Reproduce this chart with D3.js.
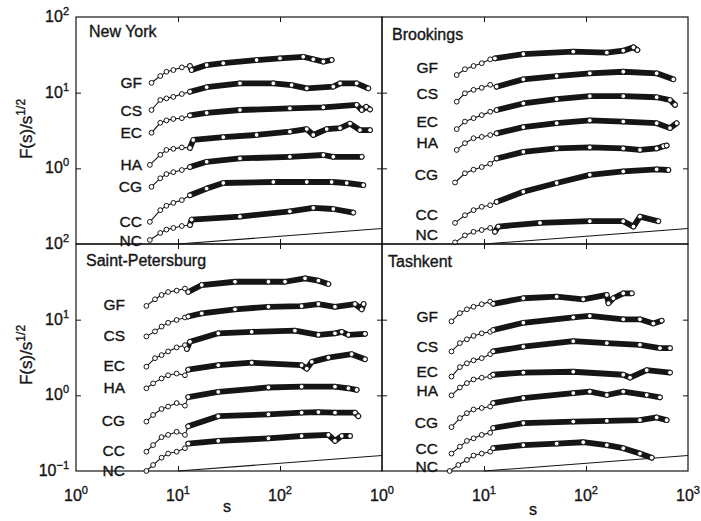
<!DOCTYPE html>
<html>
<head>
<meta charset="utf-8">
<script src="https://cdnjs.cloudflare.com/ajax/libs/d3/7.8.5/d3.min.js"></script>
<style>
  body { margin: 0; background: #fff; }
  svg { display: block; font-family: "Liberation Sans", Arial, sans-serif; }
  text { stroke: #151515; stroke-width: 0.35px; }
</style>
</head>
<body>
<svg width="701" height="521"></svg>
<script>
// series names (top to bottom in every panel) and panel titles
var series = ["GF", "CS", "EC", "HA", "CG", "CC", "NC"];
var cities = ["New York", "Brookings", "Saint-Petersburg", "Tashkent"];

// [s, F(s)/s^1/2]
var newYork = {
  GF: [[5.5,13.5],[6.7,16.6],[7.7,18.9],[9.0,19.9],[10.9,21.6],[13.1,22.5],[13.6,19.9],[19.1,23.2],[27.8,24.5],[59,27.0],[100,28.4],[169,29.8],[212,27.6],[266,25.7],[321,27.0]],
  CS: [[5.5,5.9],[6.7,8.0],[7.7,8.4],[9.0,8.8],[10.9,9.6],[13.1,10.3],[19.1,11.8],[40.5,13.3],[86,13.3],[130,12.6],[183,11.4],[333,12.0],[388,13.3],[565,13.3],[734,11.4]],
  EC: [[5.5,2.95],[6.7,4.0],[7.7,4.3],[9.0,4.5],[10.9,4.6],[13.1,5.0],[19.1,5.4],[40.5,5.9],[125,6.2],[266,6.4],[565,6.9],[632,5.9],[700,6.5],[763,6.0]],
  HA: [[5.3,1.11],[6.7,1.51],[7.7,1.75],[9.0,1.81],[10.9,1.89],[13.1,1.86],[14.1,2.37],[27.8,2.58],[59,2.76],[125,3.05],[183,3.3],[212,2.76],[287,3.3],[388,3.4],[486,3.9],[608,3.2],[763,3.2]],
  CG: [[5.5,0.57],[6.7,0.74],[7.7,0.84],[9.0,0.89],[10.9,0.95],[13.1,1.04],[19.1,1.22],[40.5,1.35],[125,1.42],[266,1.50],[333,1.42],[632,1.42]],
  CC: [[5.3,0.196],[6.7,0.28],[7.7,0.32],[9.0,0.35],[10.9,0.38],[13.1,0.44],[19.1,0.54],[27.8,0.64],[86,0.66],[183,0.66],[321,0.66],[451,0.64],[656,0.60]],
  NC: [[5.3,0.113],[6.7,0.14],[7.7,0.155],[9.0,0.163],[10.9,0.173],[13.1,0.178],[13.6,0.21],[40.5,0.23],[125,0.27],[212,0.30],[333,0.29],[523,0.26]]
};

var brookings = {
  GF: [[5.4,17.1],[6.5,20.4],[7.9,22.5],[9.5,24.5],[11.5,27.6],[12.8,28.4],[24.3,32.4],[75,34.8],[160,33.8],[232,35.9],[292,39.8],[319,36.6]],
  CS: [[5.4,7.6],[6.5,9.8],[7.9,10.9],[9.5,11.6],[11.5,12.7],[13.3,12.0],[24.3,15.0],[51.6,16.6],[109,18.0],[232,18.9],[493,18.0],[718,15.0]],
  EC: [[5.4,3.3],[6.5,4.15],[7.9,4.6],[9.5,5.05],[11.5,5.6],[13.3,5.9],[24.3,7.2],[51.6,8.2],[109,9.0],[232,9.0],[493,8.7],[666,8.0],[746,6.9]],
  HA: [[5.4,1.75],[6.5,2.15],[7.9,2.5],[9.5,2.6],[11.5,2.75],[13.3,2.9],[24.3,3.5],[51.6,3.95],[109,4.3],[232,4.15],[493,3.95],[666,3.4],[774,3.95]],
  CG: [[5.2,0.65],[6.5,0.86],[7.9,0.96],[9.5,1.04],[11.5,1.15],[13.3,1.35],[24.3,1.65],[51.6,1.83],[109,1.89],[232,1.83],[338,1.75],[493,1.83],[573,1.96],[618,2.0]],
  CC: [[5.2,0.19],[6.5,0.24],[7.9,0.28],[9.5,0.31],[11.5,0.325],[13.3,0.36],[24.3,0.49],[51.6,0.64],[109,0.82],[232,0.91],[493,0.97],[642,0.95]],
  NC: [[5.2,0.105],[6.5,0.13],[7.9,0.145],[9.5,0.153],[11.5,0.163],[12.8,0.145],[13.8,0.17],[35.4,0.19],[109,0.20],[232,0.20],[292,0.17],[338,0.23],[512,0.20]]
};

var saintPetersburg = {
  GF: [[4.9,15.2],[5.95,18.6],[6.9,21.2],[8.0,23.2],[9.7,24.2],[11.7,25.8],[12.6,23.2],[17.1,28.7],[36.2,31.7],[77,31.7],[112,31.7],[176,35.2],[238,32.8],[298,29.6]],
  CS: [[4.9,6.0],[5.95,7.0],[6.9,8.1],[8.0,9.1],[9.7,9.9],[11.7,10.7],[12.6,11.0],[17.1,12.1],[36.2,13.7],[77,14.8],[163,15.1],[238,16.1],[346,14.8],[543,16.1],[632,13.7],[660,16.1]],
  EC: [[4.9,2.39],[5.95,3.1],[6.9,3.4],[8.0,3.8],[9.7,4.3],[11.7,4.6],[12.2,4.1],[13.1,5.1],[24.8,6.6],[52.8,6.9],[140,7.15],[238,6.3],[346,6.6],[403,6.9],[468,6.3],[681,6.5]],
  HA: [[4.9,1.24],[5.7,1.44],[6.9,1.67],[8.0,1.84],[9.7,1.94],[11.7,1.84],[12.6,2.18],[24.8,2.5],[52.8,2.7],[163,2.5],[183,2.25],[205,2.77],[298,3.15],[504,3.5],[681,3.0]],
  CG: [[4.9,0.45],[5.7,0.55],[6.9,0.66],[8.0,0.71],[9.7,0.79],[11.7,0.73],[12.6,0.95],[24.8,1.11],[77,1.27],[163,1.30],[346,1.30],[468,1.24],[565,1.18]],
  CC: [[4.9,0.18],[5.7,0.22],[6.9,0.28],[8.0,0.30],[9.7,0.33],[11.7,0.30],[12.6,0.39],[24.8,0.53],[77,0.56],[163,0.59],[238,0.60],[346,0.59],[543,0.59],[586,0.53]],
  NC: [[4.9,0.1],[5.7,0.12],[6.9,0.15],[8.0,0.17],[9.7,0.18],[11.7,0.2],[12.6,0.23],[24.8,0.25],[77,0.27],[163,0.29],[298,0.30],[346,0.25],[403,0.29],[486,0.29]]
};

var tashkent = {
  GF: [[4.8,9.5],[5.8,12.2],[6.8,13.7],[7.9,14.8],[9.5,16.0],[11.5,17.3],[12.3,16.2],[24.3,19.2],[51.6,20.1],[94,18.6],[160,21.2],[166,16.5],[185,19.2],[232,22.3],[281,22.3]],
  CS: [[4.8,3.8],[5.8,4.9],[6.8,5.5],[7.9,6.1],[9.5,6.6],[11.5,6.9],[12.3,7.3],[24.3,9.1],[75,10.7],[109,11.2],[232,10.1],[338,10.1],[457,8.9],[552,9.7]],
  EC: [[4.8,1.77],[5.8,2.36],[6.8,2.65],[7.9,2.9],[9.5,3.1],[11.5,3.5],[12.3,3.8],[24.3,4.4],[75,5.2],[160,4.9],[338,4.65],[531,4.2],[666,4.2]],
  HA: [[4.8,1.0],[5.8,1.27],[6.8,1.45],[7.9,1.62],[9.5,1.71],[11.5,1.77],[12.3,1.87],[24.3,2.0],[75,2.05],[232,1.87],[270,1.71],[394,2.15],[666,2.0]],
  CG: [[4.8,0.38],[5.8,0.50],[6.8,0.58],[7.9,0.65],[9.5,0.68],[11.5,0.71],[12.3,0.79],[24.3,0.92],[75,1.07],[109,1.12],[160,1.01],[232,1.12],[394,1.01],[531,0.94]],
  CC: [[4.8,0.17],[5.8,0.21],[6.8,0.25],[7.9,0.27],[9.5,0.30],[11.5,0.32],[12.3,0.37],[24.3,0.43],[75,0.45],[160,0.46],[338,0.47],[493,0.51],[618,0.47]],
  NC: [[4.6,0.1],[5.6,0.12],[6.8,0.14],[7.9,0.16],[9.5,0.17],[11.5,0.18],[12.3,0.2],[24.3,0.22],[51.6,0.23],[94,0.24],[160,0.22],[232,0.2],[338,0.17],[441,0.15]]
};

// axis ticks and their printed exponents (the scan labels the top panel's floor "10^2")
var sTicks = [1, 10, 100, 1000];
var sExpLeft = ["0", "1", "2", null];
var sExpRight = ["0", "1", "2", "3"];
var fTicks = [100, 10, 1, 0.1];
var fExpTop = ["2", "1", "0", "2"];
var fExpBottom = [null, "1", "0", "\u22121"];

// the slanted straight line near the bottom of every panel
var refLine = [[10, 0.1], [1000, 0.16]];

var svg = d3.select("svg"),
    ink = "#151515",
    pw = 306,
    ph = 227,
    thickFrom = 12;

var panels = [
  { name: cities[0], data: newYork,         x0: 76,  y0: 17,  tx: 13, ty: 20, lx: 66, ldy: 0 },
  { name: cities[1], data: brookings,       x0: 382, y0: 17,  tx: 10, ty: 23, lx: 56, ldy: -8 },
  { name: cities[2], data: saintPetersburg, x0: 76,  y0: 244, tx: 10, ty: 22, lx: 49, ldy: -1 },
  { name: cities[3], data: tashkent,        x0: 382, y0: 244, tx: 6,  ty: 23, lx: 56, ldy: -5 }
];

function pow10(text, base, exp, supSize) {
  text.append("tspan").text(base);
  text.append("tspan").attr("dy", -7).attr("font-size", supSize).text(exp);
}

panels.forEach(function(p) {
  var x = d3.scaleLog().domain([1, 1000]).range([p.x0, p.x0 + pw]),
      y = d3.scaleLog().domain([0.1, 100]).range([p.y0 + ph, p.y0]);

  var g = svg.append("g");

  // inward ticks on all four sides
  var noDomain = function(a) { a.select(".domain").remove(); a.selectAll("line").attr("stroke", ink); };
  g.append("g").attr("transform", "translate(0," + (p.y0 + ph) + ")")
      .call(d3.axisBottom(x).tickValues([10, 100]).tickSize(-5).tickFormat("")).call(noDomain);
  g.append("g").attr("transform", "translate(0," + p.y0 + ")")
      .call(d3.axisTop(x).tickValues([10, 100]).tickSize(-5).tickFormat("")).call(noDomain);
  g.append("g").attr("transform", "translate(" + p.x0 + ",0)")
      .call(d3.axisLeft(y).tickValues([1, 10]).tickSize(-5).tickFormat("")).call(noDomain);
  g.append("g").attr("transform", "translate(" + (p.x0 + pw) + ",0)")
      .call(d3.axisRight(y).tickValues([1, 10]).tickSize(-5).tickFormat("")).call(noDomain);

  g.append("rect")
      .attr("x", p.x0).attr("y", p.y0)
      .attr("width", pw).attr("height", ph)
      .attr("fill", "none").attr("stroke", ink).attr("stroke-width", 1.2);

  var line = d3.line()
      .x(function(d) { return x(d[0]); })
      .y(function(d) { return y(d[1]); });

  g.append("path")
      .attr("d", line(refLine))
      .attr("fill", "none").attr("stroke", ink).attr("stroke-width", 1.1);

  g.append("text")
      .attr("x", p.x0 + p.tx).attr("y", p.y0 + p.ty)
      .attr("font-size", 16).attr("fill", ink)
      .text(p.name);

  series.forEach(function(name) {
    var pts = p.data[name];

    g.append("path")
        .attr("d", line(pts))
        .attr("fill", "none").attr("stroke", ink).attr("stroke-width", 1.1);

    g.append("path")
        .attr("d", line(pts.filter(function(d) { return d[0] >= thickFrom; })))
        .attr("fill", "none").attr("stroke", ink)
        .attr("stroke-width", 5.8)
        .attr("stroke-linejoin", "round").attr("stroke-linecap", "round");

    g.selectAll(null)
      .data(pts)
      .enter().append("circle")
        .attr("cx", function(d) { return x(d[0]); })
        .attr("cy", function(d) { return y(d[1]); })
        .attr("r", 2.4)
        .attr("fill", "#fff").attr("stroke", ink).attr("stroke-width", 1);

    g.append("text")
        .attr("x", p.x0 + p.lx)
        .attr("y", y(pts[0][1]) + p.ldy)
        .attr("dy", "0.36em")
        .attr("text-anchor", "end")
        .attr("font-size", 15.5).attr("fill", ink)
        .text(name);
  });

  // tick labels: y on the left column, x on the bottom row
  if (p.x0 === 76) {
    var exps = p.y0 === 17 ? fExpTop : fExpBottom;
    fTicks.forEach(function(v, i) {
      if (!exps[i]) return;
      var t = g.append("text")
          .attr("x", 69).attr("y", y(v) + 5)
          .attr("text-anchor", "end")
          .attr("font-size", 16).attr("fill", ink);
      pow10(t, "10", exps[i], 11);
    });
  }
  if (p.y0 === 244) {
    var sx = p.x0 === 76 ? sExpLeft : sExpRight;
    sTicks.forEach(function(v, i) {
      if (!sx[i]) return;
      var t = g.append("text")
          .attr("x", x(v)).attr("y", 501)
          .attr("text-anchor", "middle")
          .attr("font-size", 16).attr("fill", ink);
      pow10(t, "10", sx[i], 11);
    });
    g.append("text")
        .attr("x", x(Math.sqrt(1000)) - 2).attr("y", p.x0 === 76 ? 512 : 515)
        .attr("text-anchor", "middle")
        .attr("font-size", 16).attr("fill", ink)
        .text("s");
  }
  if (p.x0 === 76) {
    var yt = g.append("text")
        .attr("transform", "translate(32," + (p.y0 === 17 ? 129 : 355) + ") rotate(-90)")
        .attr("text-anchor", "middle")
        .attr("font-size", 17).attr("fill", ink);
    pow10(yt, "F(s)/s", "1/2", 12);
  }
});
</script>
</body>
</html>
